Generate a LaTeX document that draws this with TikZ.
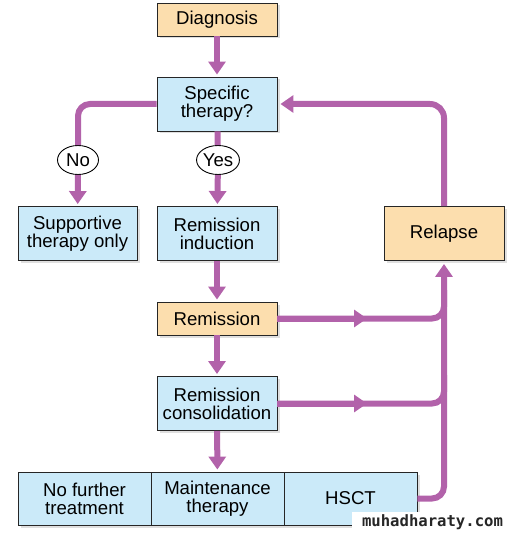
\documentclass[tikz,border=0pt]{standalone}
\usepackage{fontspec}
\setmainfont{Liberation Sans}
\newfontfamily\markfont{DejaVu Sans Mono}
\usetikzlibrary{arrows.meta,shapes.geometric,shadows}

\definecolor{flowpurple}{RGB}{178,98,170}
\definecolor{stageorange}{RGB}{252,222,174}
\definecolor{stepblue}{RGB}{203,234,249}

\tikzset{
  stage/.style={draw=black!85, line width=0.9pt, align=center, inner sep=0pt,
    minimum width=120pt, minimum height=54pt,
    font=\fontsize{18.6}{18}\selectfont,
    drop shadow={shadow xshift=2.5pt, shadow yshift=-2.5pt, fill=black!25}},
  orangebox/.style={stage, fill=stageorange},
  bluebox/.style={stage, fill=stepblue},
  cell/.style={bluebox, minimum width=133pt, minimum height=53pt},
  choice/.style={ellipse, draw=black, line width=0.9pt, fill=white, inner sep=0pt,
    minimum width=41pt, minimum height=29pt, font=\fontsize{18.6}{18}\selectfont},
  link/.style={draw=flowpurple, line width=6pt, rounded corners=12pt},
  flow/.style={link, -{Triangle[length=13pt,width=17pt]}, shorten >=2pt}
}

\begin{document}
\begin{tikzpicture}[x=1pt, y=-1pt]
  \useasboundingbox (0,0) rectangle (510,534);

  % boxes of the main column
  \node [orangebox, minimum height=33pt] (diag)    at (217,19.5)  {Diagnosis};
  \node [bluebox]                        (spec)    at (217,104)   {Specific\\therapy?};
  \node [bluebox, minimum width=119pt]   (support) at (77.5,233.5) {Supportive\\therapy only};
  \node [bluebox]                        (induct)  at (217,233.5) {Remission\\induction};
  \node [orangebox]                      (relapse) at (444,233.5) {Relapse};
  \node [orangebox, minimum height=33pt] (remis)   at (217,318.5) {Remission};
  \node [bluebox]                        (consol)  at (217,403.5) {Remission\\consolidation};

  % bottom row
  \node [cell] (nofurther) at (84.5,498.5)  {No further\\treatment};
  \node [cell] (maint)     at (217.5,498.5) {Maintenance\\therapy};
  \node [cell] (hsct)      at (350.5,498.5) {HSCT};

  % decisions
  \node [choice] (no)  at (78,160)  {No};
  \node [choice] (yes) at (218,160) {Yes};

  \coordinate (remjoin) at (444,290);
  \coordinate (conjoin) at (444,375);
  \coordinate (remmid)  at (367,318.5);
  \coordinate (conmid)  at (367,403.5);

  \draw [flow] (diag) -- (spec);
  \draw [link] (spec.west) -| (no.north);
  \draw [flow] (no) -- (support);
  \draw [link] (spec) -- (yes);
  \draw [flow] (yes) -- (induct);
  \draw [flow] (induct) -- (remis);
  \draw [flow] (remis) -- (consol);
  \draw [flow] (consol) -- (maint);

  % back to therapy after relapse
  \draw [flow, rounded corners=14pt, shorten >=3pt] (relapse.north) |- (spec.east);
  \draw [flow, shorten >=3pt] (hsct.east) -| (relapse.south);
  \draw [link] (remis.east) -| (remjoin);
  \draw [link] (consol.east) -| (conjoin);
  \draw [flow, shorten >=0pt] (remis.east) -- (remmid);
  \draw [flow, shorten >=0pt] (consol.east) -- (conmid);

  \fill [white] (352,512) rectangle (510,534);
  \node [anchor=base, inner sep=0pt, text=black!85,
    font=\markfont\bfseries\fontsize{15.6}{16}\selectfont] (site) at (432.5,526) {muhadharaty.com};
\end{tikzpicture}
\end{document}
